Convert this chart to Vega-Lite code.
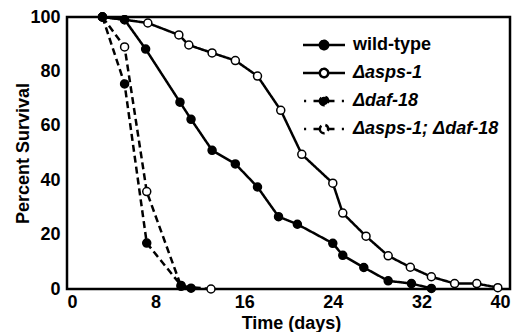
{
  "$schema": "https://vega.github.io/schema/vega-lite/v6.json",
  "width": 443,
  "height": 272,
  "autosize": {"type": "none"},
  "padding": {"left": 67, "top": 17, "right": 12, "bottom": 43},
  "background": "white",
  "config": {
    "font": "Liberation Sans",
    "view": {"stroke": "black", "strokeWidth": 2.5},
    "axis": {
      "domain": false,
      "ticks": false,
      "grid": false,
      "labelFont": "Liberation Sans",
      "labelFontSize": 18,
      "labelFontWeight": "bold",
      "labelColor": "black",
      "titleFont": "Liberation Sans",
      "titleFontSize": 18,
      "titleFontWeight": "bold",
      "titleColor": "black"
    }
  },
  "data": {
    "values": [
      {"series": "Δasps-1; Δdaf-18", "day": 3.2, "pct": 100},
      {"series": "Δasps-1; Δdaf-18", "day": 5.2, "pct": 89},
      {"series": "Δasps-1; Δdaf-18", "day": 7.2, "pct": 35.8},
      {"series": "Δasps-1; Δdaf-18", "day": 10.3, "pct": 1},
      {"series": "Δasps-1; Δdaf-18", "day": 13, "pct": 0},
      {"series": "Δasps-1", "day": 3.2, "pct": 100},
      {"series": "Δasps-1", "day": 5.2, "pct": 99},
      {"series": "Δasps-1", "day": 7.3, "pct": 97.8},
      {"series": "Δasps-1", "day": 10.1, "pct": 93.4},
      {"series": "Δasps-1", "day": 11, "pct": 89.7},
      {"series": "Δasps-1", "day": 13.1, "pct": 86.8},
      {"series": "Δasps-1", "day": 15.2, "pct": 84},
      {"series": "Δasps-1", "day": 17.2, "pct": 78.3},
      {"series": "Δasps-1", "day": 19.3, "pct": 65.7},
      {"series": "Δasps-1", "day": 21.2, "pct": 49.5},
      {"series": "Δasps-1", "day": 24, "pct": 38.9},
      {"series": "Δasps-1", "day": 24.9, "pct": 27.9},
      {"series": "Δasps-1", "day": 27, "pct": 19.4},
      {"series": "Δasps-1", "day": 29, "pct": 12.2},
      {"series": "Δasps-1", "day": 31, "pct": 8},
      {"series": "Δasps-1", "day": 32.9, "pct": 4.5},
      {"series": "Δasps-1", "day": 35, "pct": 2},
      {"series": "Δasps-1", "day": 37, "pct": 2},
      {"series": "Δasps-1", "day": 38.9, "pct": 0.5},
      {"series": "Δdaf-18", "day": 3.2, "pct": 100},
      {"series": "Δdaf-18", "day": 5.2, "pct": 75.4},
      {"series": "Δdaf-18", "day": 7.2, "pct": 16.9},
      {"series": "Δdaf-18", "day": 10.3, "pct": 1.3},
      {"series": "Δdaf-18", "day": 11.2, "pct": 0.3},
      {"series": "wild-type", "day": 3.2, "pct": 100},
      {"series": "wild-type", "day": 5.2, "pct": 99},
      {"series": "wild-type", "day": 7.1, "pct": 88.2},
      {"series": "wild-type", "day": 10.2, "pct": 68.7},
      {"series": "wild-type", "day": 11.2, "pct": 62.4},
      {"series": "wild-type", "day": 13.1, "pct": 51},
      {"series": "wild-type", "day": 15.2, "pct": 46},
      {"series": "wild-type", "day": 17.2, "pct": 37.5},
      {"series": "wild-type", "day": 19.1, "pct": 26.6},
      {"series": "wild-type", "day": 20.8, "pct": 23.8},
      {"series": "wild-type", "day": 24, "pct": 16.8},
      {"series": "wild-type", "day": 24.9, "pct": 12.4},
      {"series": "wild-type", "day": 26.8, "pct": 7.9},
      {"series": "wild-type", "day": 29, "pct": 3},
      {"series": "wild-type", "day": 31.1, "pct": 2},
      {"series": "wild-type", "day": 32.9, "pct": 0.2}
    ]
  },
  "encoding": {
    "x": {
      "field": "day",
      "type": "quantitative",
      "scale": {"domain": [0, 40], "nice": false},
      "axis": {
        "values": [0, 8, 16, 24, 32, 40],
        "labelPadding": 4,
        "title": "Time (days)",
        "titleX": 224,
        "titleY": 34,
        "titleBaseline": "middle"
      }
    },
    "y": {
      "field": "pct",
      "type": "quantitative",
      "scale": {"domain": [0, 100], "nice": false},
      "axis": {
        "values": [0, 20, 40, 60, 80, 100],
        "labelPadding": 7,
        "title": "Percent Survival",
        "titleX": -44,
        "titleY": 136,
        "titleBaseline": "middle",
        "titleAngle": -90
      }
    }
  },
  "layer": [
    {
      "mark": {"type": "line", "color": "black", "strokeWidth": 2.5},
      "encoding": {
        "strokeDash": {
          "field": "series",
          "type": "nominal",
          "scale": {
            "domain": ["wild-type", "Δasps-1", "Δdaf-18", "Δasps-1; Δdaf-18"],
            "range": [[1, 0], [1, 0], [7, 4], [7, 4]]
          },
          "legend": {
            "orient": "none",
            "legendX": 248,
            "legendY": 19,
            "title": null,
            "symbolSize": 196,
            "symbolStrokeWidth": 2.5,
            "symbolStrokeColor": "black",
            "labelFont": "Liberation Sans",
            "labelFontSize": 18,
            "labelFontWeight": "bold",
            "labelColor": "black",
            "labelOffset": 20,
            "rowPadding": 8,
            "padding": 0,
            "encode": {
              "symbols": {
                "update": {
                  "shape": [
                    {"test": "datum.value === 'wild-type' || datum.value === 'Δasps-1'", "value": "M-3,0H-0.6M0.6,0H3M-0.6,0A0.6,0.6 0 1 0 0.6,0A0.6,0.6 0 1 0 -0.6,0"},
                    {"value": "M-2.85,0H-2.55M-1.5,0H-0.6M0.6,0H1.5M2.55,0H2.85M-0.6,0A0.6,0.6 0 1 0 0.6,0A0.6,0.6 0 1 0 -0.6,0"}
                  ],
                  "fill": [
                    {"test": "datum.value === 'wild-type' || datum.value === 'Δdaf-18'", "value": "black"},
                    {"value": "white"}
                  ],
                  "stroke": {"value": "black"},
                  "strokeDash": {"value": [1, 0]},
                  "strokeWidth": {"value": 2.5}
                }
              },
              "labels": {
                "update": {
                  "fontStyle": [
                    {"test": "datum.value === 'wild-type'", "value": "normal"},
                    {"value": "italic"}
                  ]
                }
              }
            }
          }
        }
      }
    },
    {
      "mark": {"type": "point", "shape": "circle", "filled": true, "size": 64, "stroke": "black", "strokeWidth": 1.5, "strokeOpacity": 1, "opacity": 1},
      "encoding": {
        "fill": {
          "field": "series",
          "type": "nominal",
          "scale": {
            "domain": ["wild-type", "Δasps-1", "Δdaf-18", "Δasps-1; Δdaf-18"],
            "range": ["black", "white", "black", "white"]
          },
          "legend": null
        }
      }
    }
  ]
}
